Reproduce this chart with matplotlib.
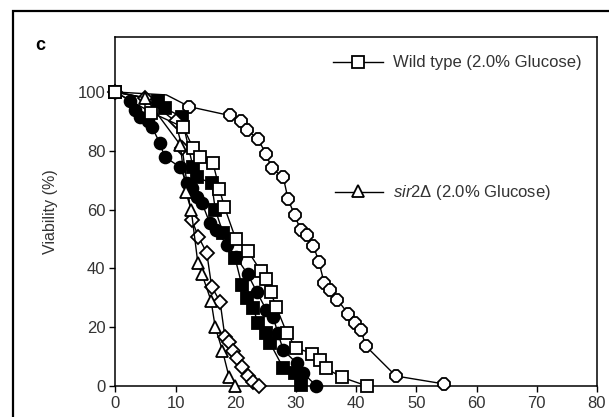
import matplotlib
matplotlib.use("Agg")
import matplotlib.pyplot as plt
from matplotlib.lines import Line2D
from matplotlib.patches import Rectangle

plt.rcParams['font.family'] = ['Liberation Sans', 'DejaVu Sans']
plt.rcParams['mathtext.fontset'] = 'custom'
plt.rcParams['mathtext.it'] = 'Liberation Sans:italic'
plt.rcParams['mathtext.rm'] = 'Liberation Sans'

# ---- data ----
wt_x = [0, 6.0, 11.3, 12.9, 14.0, 16.2, 17.3, 18.1, 20.0, 22.0, 24.2, 25.0, 25.8, 26.7, 28.5, 30.0, 32.7, 34.0, 35.0, 37.6, 41.8]
wt_y = [100, 93, 88, 81, 78, 76, 67, 61, 50, 46, 39, 36.5, 32, 27, 18, 13, 11, 9, 6, 3, 0]

sir2_x = [0, 5.0, 10.8, 11.7, 12.6, 13.7, 14.4, 15.9, 16.6, 17.8, 18.9, 19.8]
sir2_y = [100, 98, 82, 66, 60, 42, 38, 29, 20, 12, 3, 0]

oct_x = [0, 8.5, 12.3, 19.0, 20.9, 21.9, 23.7, 25.0, 26.0, 27.9, 28.7, 29.8, 30.8, 31.8, 32.9, 33.8, 34.7, 35.6, 36.9, 38.7, 39.8, 40.8, 41.6, 46.6, 54.6]
oct_y = [100, 99, 95, 92, 90, 87, 84, 79, 74, 71, 63.5, 58, 53, 51.4, 47.7, 42.3, 35, 32.7, 29.3, 24.5, 21.5, 19, 13.6, 3.4, 0.7]

fc_x = [0, 2.5, 3.3, 4.1, 5.5, 6.1, 7.4, 8.2, 10.7, 11.9, 12.7, 13.5, 14.4, 15.7, 16.8, 18.5, 20.0, 22.0, 23.5, 25.1, 26.2, 27.0, 27.9, 30.1, 31.2, 33.4]
fc_y = [100, 97, 94, 91.5, 90, 88, 82.6, 78, 74.5, 69, 67.3, 64.3, 62.2, 55.4, 53, 48, 44, 38, 32, 25.8, 23.6, 18, 12.2, 7.8, 4.4, 0]

fs_x = [0, 7.1, 8.2, 11.0, 12.9, 13.5, 16.0, 16.6, 17.9, 19.9, 21.0, 21.8, 22.9, 23.7, 25.1, 25.7, 27.9, 29.8, 30.9]
fs_y = [100, 97, 94.5, 91.6, 74.5, 71, 69, 60, 52, 43.5, 34.4, 29.9, 26.5, 21.4, 18, 14.6, 6.1, 4.4, 0.5]

dia_x = [0, 5.0, 10.0, 11.1, 12.7, 13.8, 15.2, 16.0, 17.4, 18.2, 18.9, 19.5, 20.2, 21.1, 22.1, 22.9, 23.9]
dia_y = [100, 98, 90, 81, 56.5, 50.8, 45.2, 33.8, 28.7, 16.8, 15, 12, 9.4, 6.6, 3.4, 1.5, 0]

x_ticks = [0, 10, 20, 30, 40, 50, 60, 70, 80]
y_ticks = [0, 20, 40, 60, 80, 100]

W, H = 609, 417
fig = plt.figure(figsize=(W / 100, H / 100), dpi=100)
ax = fig.add_axes([115.3 / W, 1 - 386 / H, (597 - 115.3) / W, (386 - 36.7) / H])

lw = 1.0
common = dict(color='black', lw=lw, clip_on=False, markeredgewidth=1.3)
ax.plot(oct_x, oct_y, marker='8', ms=9, mfc='white', mec='black', zorder=3,
        markevery=[0] + list(range(2, len(oct_x))), **common)
ax.plot(fc_x, fc_y, marker='o', ms=8.5, mfc='black', mec='black', zorder=4, **common)
ax.plot(fs_x, fs_y, marker='s', ms=8, mfc='black', mec='black', zorder=4, **common)
ax.plot(dia_x, dia_y, marker='D', ms=7, mfc='white', mec='black', zorder=5, **common)
ax.plot(sir2_x, sir2_y, marker='^', ms=8, mfc='white', mec='black', zorder=5, **common)
ax.plot(wt_x, wt_y, marker='s', ms=8.5, mfc='white', mec='black', zorder=6, **common)

ax.set_xlim(0, 80)
ax.set_ylim(0, 118.8)
ax.set_xticks(x_ticks)
ax.set_yticks(y_ticks)
ax.tick_params(direction='out', length=4, width=1.0, labelsize=12, labelcolor='#333333', pad=3)
for s in ax.spines.values():
    s.set_linewidth(1.1)
ax.set_ylabel('Viability (%)', fontsize=11.5, color='#333333', labelpad=14)

# in-plot legend entries
tr = ax.transAxes
def px2ax(px, py):
    return ((px - 115.3) / (597 - 115.3), (386 - py) / (386 - 36.7))

x0, y0 = px2ax(333, 62)
x1, _ = px2ax(383, 62)
xm, _ = px2ax(358, 62)
ax.add_line(Line2D([x0, x1], [y0, y0], transform=tr, color='black', lw=lw, clip_on=False))
ax.plot([xm], [y0], transform=tr, marker='s', ms=8.5, mfc='white', mec='black', mew=1.3, clip_on=False)
tx, _ = px2ax(393, 62)
ax.text(tx, y0, 'Wild type (2.0% Glucose)', transform=tr, fontsize=12, color='#333333', va='center', ha='left')

x0, y1 = px2ax(335, 192)
x1, _ = px2ax(383, 192)
xm, _ = px2ax(358, 190)
ax.add_line(Line2D([x0, x1], [y1, y1], transform=tr, color='black', lw=lw, clip_on=False))
ax.plot([xm], [y1 + 0.004], transform=tr, marker='^', ms=8, mfc='white', mec='black', mew=1.3, clip_on=False)
tx, _ = px2ax(393, 192)
ax.text(tx, y1, r'$\mathit{sir2\Delta}$ (2.0% Glucose)', transform=tr, fontsize=12, color='#333333', va='center', ha='left')

# panel label
fig.text(40 / W, 1 - 45 / H, 'c', fontsize=13, fontweight='bold', ha='center', va='center')

# outer frame (left and top edges visible)
fig.patches.append(Rectangle((13 / W, -0.2), 1.2, 1.2 - 11 / H, transform=fig.transFigure,
                             fill=False, edgecolor='black', lw=1.6))

fig.savefig('out.png', dpi=100)
